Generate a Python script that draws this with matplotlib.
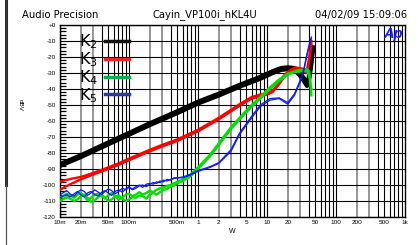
import numpy as np
import matplotlib
matplotlib.use('Agg')
import matplotlib.pyplot as plt
from matplotlib.lines import Line2D
from matplotlib.ticker import FixedLocator, MultipleLocator, NullFormatter

# K2 (black), two channels
w_k2 = [0.01, 0.02, 0.05, 0.1, 0.2, 0.5, 1, 2, 4, 8, 12, 16, 20, 25, 30, 35, 38, 40, 43, 46]
k2_a = [-87, -81.5, -73.5, -67.5, -61.5, -54, -48, -43, -37.5, -32.5, -29, -27, -26.5, -27, -30, -34, -37, -34, -25, -14]
k2_b = [-88, -82.5, -74.5, -68.5, -62.5, -55, -49, -44, -38.5, -33.5, -30, -28, -27.5, -28, -31.5, -35.5, -38, -36, -27, -16]

# K3 (red)
w_k3 = [0.01, 0.012, 0.015, 0.02, 0.03, 0.05, 0.07, 0.1, 0.2, 0.3, 0.5, 1, 2, 4, 6, 8, 10, 12, 15, 18, 22, 26, 30, 34, 38, 41, 44]
k3_a = [-98, -97, -96, -95, -92.5, -89, -86.5, -83.5, -78, -75, -71.5, -65.5, -58, -49.5, -45, -43.5, -42.5, -41, -36, -31, -28, -26.5, -27, -27.5, -28, -20, -10]
k3_b = [-103, -101, -99, -96.5, -93.5, -90, -87.5, -84.5, -79, -76, -72.5, -66.5, -59, -50.5, -46, -44.5, -43.5, -42, -37, -32, -29, -27.5, -28, -29, -30, -22, -12]

# K4 / K5 share the same sweep points
w_sweep = [0.01, 0.011, 0.0125, 0.014, 0.016, 0.018, 0.02, 0.0225, 0.025, 0.028, 0.032, 0.036,
           0.04, 0.045, 0.05, 0.056, 0.063, 0.071, 0.08, 0.09, 0.1, 0.112, 0.126, 0.141, 0.158,
           0.178, 0.2, 0.224, 0.251, 0.282, 0.316, 0.355, 0.398, 0.447, 0.5,
           0.6, 0.7, 0.8, 1, 1.5, 2, 3, 4, 6, 8, 11, 15, 20, 25, 30, 34, 38, 41, 44]

k4_a = [-108, -107, -105.5, -106.5, -108, -106, -105, -107, -109.5, -108, -106, -105.5,
        -107, -108.5, -106.5, -105, -107, -109, -108, -106, -105.5, -107, -106, -104.5, -106,
        -105, -103.5, -104.5, -103, -102, -101.5, -100.5, -100, -99, -98,
        -96.5, -95, -93, -89, -81, -74, -64, -58, -50, -45, -39, -34, -30.5, -29, -28, -28.5, -27.5, -29, -44]
k4_b = [-110, -109, -107.5, -108.5, -110, -109, -107, -106, -108, -110.5, -109.5, -107.5,
        -106, -108, -110, -109, -107, -106.5, -108.5, -110, -109, -107.5, -108, -106.5, -107,
        -108.5, -106, -105, -106, -104.5, -103, -102.5, -101, -100.5, -99,
        -97.5, -96, -94, -90, -82, -75, -65, -59, -51, -46, -40, -35, -31, -29.5, -29, -29, -28.5, -32, -40]

k5_a = [-106, -105, -103.5, -105.5, -107, -104.5, -103, -104, -106.5, -105, -103, -104.5,
        -106, -104, -102.5, -103.5, -105.5, -104, -102, -103, -101.5, -102.5, -101, -100, -101.5,
        -99.5, -99, -99.5, -98, -98.5, -97, -97.5, -96.5, -96, -95.5,
        -95, -94, -93, -91, -88.5, -86, -78, -67.5, -57, -50, -46, -45.5, -48.5, -43, -35, -28, -18, -12, -7.5]
k5_b = [-108, -107, -106, -107.5, -105.5, -104, -106, -107.5, -105, -104, -106, -107,
        -104.5, -103.5, -105, -106.5, -104, -103, -104.5, -102.5, -101, -103, -102, -100.5, -100,
        -101, -99.5, -98.5, -99, -97.5, -98, -96.5, -97, -95.5, -95.5,
        -95.5, -94.5, -93.5, -91.5, -89, -86.5, -79, -68.5, -58, -51, -47, -46, -49.5, -44, -36, -29, -19, -13, -8.5]

x_ticks = [0.01, 0.02, 0.05, 0.1, 0.5, 1, 2, 5, 10, 20, 50, 100, 200, 500, 1000]
x_labels = ['10m', '20m', '50m', '100m', '500m', '1', '2', '5', '10', '20', '50', '100', '200', '500', '1k']
y_ticks = list(range(0, -121, -10))
y_labels = ['+0'] + [str(v) for v in y_ticks[1:]]

plt.rcParams['font.family'] = ['Liberation Sans', 'DejaVu Sans']

fig = plt.figure(figsize=(4.18, 2.45), dpi=100)
ax = fig.add_axes([60 / 418, 1 - 217 / 245, 345 / 418, 192 / 245])

# grid: vertical lines at every 1..9 of each decade
for dec in [0.01, 0.1, 1, 10, 100]:
    for m in range(1, 10):
        xv = dec * m
        if m in (2, 3):
            ax.axvline(xv, color='#8c8c8c', lw=1.3, zorder=1)
        else:
            ax.axvline(xv, color='black', lw=0.8, zorder=1)
for yv in y_ticks:
    ax.axhline(yv, color='black', lw=0.8, zorder=1)

ax.plot(w_k2, k2_a, color='black', lw=3.2, zorder=3)
ax.plot(w_k2, k2_b, color='black', lw=3.2, zorder=3)
ax.plot(w_k3, k3_a, color='#ff0000', lw=1.7, zorder=4)
ax.plot(w_k3, k3_b, color='#ff0000', lw=1.7, zorder=4)
ax.plot(w_sweep, k4_a, color='#00e000', lw=1.7, zorder=5)
ax.plot(w_sweep, k4_b, color='#00e000', lw=1.7, zorder=5)
ax.plot(w_sweep, k5_a, color='#0a1aff', lw=0.9, zorder=6)
ax.plot(w_sweep, k5_b, color='#0a1aff', lw=0.9, zorder=6)

ax.set_xscale('log')
ax.set_xlim(0.01, 1000)
ax.set_ylim(-120, 0)
ax.xaxis.set_major_locator(FixedLocator(x_ticks))
ax.set_xticklabels(x_labels)
ax.xaxis.set_minor_formatter(NullFormatter())
ax.tick_params(axis='x', which='both', length=0, labelsize=4.6, pad=2)
ax.set_yticks(y_ticks)
ax.set_yticklabels(y_labels)
ax.yaxis.set_minor_locator(MultipleLocator(2))
ax.tick_params(axis='y', which='major', length=0, labelsize=4.6, pad=3)
ax.tick_params(axis='y', which='minor', direction='in', length=4, width=0.9)
for s in ax.spines.values():
    s.set_linewidth(1.0)
ax.set_xlabel('W', fontsize=5, labelpad=2)

# legend: labels left, line samples right
handles = [Line2D([], [], color='#111111', lw=2.5),
           Line2D([], [], color='#ee2222', lw=2.5),
           Line2D([], [], color='#00b050', lw=2.5),
           Line2D([], [], color='#2a3a9a', lw=2.5)]
labels = ['K$_2$', 'K$_3$', 'K$_4$', 'K$_5$']
leg = ax.legend(handles, labels, markerfirst=False, frameon=False, loc='upper left',
                bbox_to_anchor=(0.05, 0.97), borderaxespad=0, handlelength=1.5,
                handletextpad=0.45, labelspacing=-0.05, borderpad=0.1,
                prop={'family': ['Liberation Sans Narrow', 'DejaVu Sans'], 'size': 11.5})
leg.set_zorder(8)

ax.text(0.995, 0.99, 'Ap', transform=ax.transAxes, ha='right', va='top',
        fontsize=10.5, fontweight='bold', fontstyle='italic', color='#1a22ff', zorder=9)

title_font = ['DejaVu Sans']
fig.text(22 / 418, 1 - 15 / 245, 'Audio Precision', fontsize=7.2, va='center', ha='left', family=title_font)
fig.text(205 / 418, 1 - 15 / 245, 'Cayin_VP100i_hKL4U', fontsize=7.2, va='center', ha='center', family=title_font)
fig.text(407 / 418, 1 - 15 / 245, '04/02/09 15:09:06', fontsize=7.2, va='center', ha='right', family=title_font)
fig.text(20 / 418, 1 - 105 / 245, 'dBV', fontsize=4.6, rotation=-90, va='center', ha='center')

# left edge bar
fig.add_artist(Line2D([6 / 418, 6 / 418], [1, 1 - 185 / 245], color='#333333', lw=2.2))
fig.add_artist(Line2D([6 / 418, 6 / 418], [1 - 185 / 245, 0], color='#555555', lw=0.9))

fig.savefig('out.png', dpi=100)
